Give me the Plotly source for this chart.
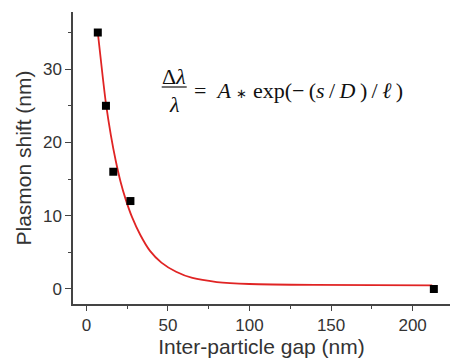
import plotly.graph_objects as go

# Measured data points
gap_nm = [7, 12, 16.5, 27, 213]
shift_nm = [35, 25, 16, 12, 0]

# Fit curve
fit_x = [7, 10, 12, 15, 18, 21, 24, 28, 33, 39, 46, 55, 65, 80, 100, 140, 212]
fit_y = [35, 29, 25.3, 21, 17.5, 14.6, 12.3, 9.8, 7.4, 5.2, 3.6, 2.35, 1.5, 0.95, 0.68, 0.55, 0.5]

x_ticks = [0, 50, 100, 150, 200]
y_ticks = [0, 10, 20, 30]

W, H = 450, 360
L, R, T, B = 73, 0, 12, 56
pw, ph = W - L - R, H - T - B

def px(x):
    return (x - L) / pw

def py(y):
    return (H - B - y) / ph

fig = go.Figure()
fig.add_trace(go.Scatter(x=fit_x, y=fit_y, mode="lines",
                         line=dict(color="#e02424", width=1.8, shape="spline", smoothing=0.6),
                         hoverinfo="skip", showlegend=False))
fig.add_trace(go.Scatter(x=gap_nm, y=shift_nm, mode="markers",
                         marker=dict(symbol="square", size=8, color="black"),
                         showlegend=False))

axis_font = dict(family="Arial, Liberation Sans, sans-serif", size=17, color="#333")
title_font = dict(family="Arial, Liberation Sans, sans-serif", size=21, color="#333")

fig.update_xaxes(range=[-8.2, 222.9], tickvals=x_ticks, ticks="outside", ticklen=5,
                 tickwidth=1.3, tickcolor="#444", showline=True, linecolor="#444", linewidth=1.5,
                 showgrid=False, zeroline=False, tickfont=axis_font, automargin=False,
                 minor=dict(dtick=25, tick0=25, ticks="outside", ticklen=3, tickcolor="#444", showgrid=False),
                 title=dict(text="Inter-particle gap (nm)", font=title_font, standoff=2))
fig.update_yaxes(range=[-2.05, 37.8], tickvals=y_ticks, ticks="outside", ticklen=6,
                 tickwidth=1.3, tickcolor="#444", showline=True, linecolor="#444", linewidth=1.5,
                 showgrid=False, zeroline=False, tickfont=axis_font, automargin=False,
                 minor=dict(dtick=5, tick0=5, ticks="outside", ticklen=3, tickcolor="#444", showgrid=False),
                 title=dict(text="Plasmon shift (nm)", font=title_font, standoff=6))

serif = dict(family="Liberation Serif, Times New Roman, serif", size=22, color="#111")
ts = "\u2009"
fig.add_annotation(xref="paper", yref="paper", x=px(174), y=py(76.5), text="Δ<i>λ</i>",
                   showarrow=False, font=serif, xanchor="center", yanchor="middle")
fig.add_annotation(xref="paper", yref="paper", x=px(174), y=py(104), text="<i>λ</i>",
                   showarrow=False, font=serif, xanchor="center", yanchor="middle")
fig.add_shape(type="line", xref="paper", yref="paper", x0=px(161.7), x1=px(186.7),
              y0=py(87), y1=py(87), line=dict(color="#111", width=1.2))
fig.add_annotation(xref="paper", yref="paper", x=px(192), y=py(91),
                   text=("=  <i>A</i> <span style='font-size:13px'>∗</span> exp(−" + ts + "(<i>s</i>"
                         + ts + "/" + ts + "<i>D</i>" + ts + ")" + ts + "/" + ts + "<i>ℓ</i>" + ts + ")"),
                   showarrow=False, font=serif, xanchor="left", yanchor="middle")

fig.update_layout(width=W, height=H, margin=dict(l=L, r=R, t=T, b=B, pad=0, autoexpand=False),
                  plot_bgcolor="white", paper_bgcolor="white", showlegend=False)

fig.write_html("out.html", config={"displayModeBar": False},
               post_script="document.body.style.margin='0';document.body.style.padding='0';document.body.style.overflow='hidden';")
